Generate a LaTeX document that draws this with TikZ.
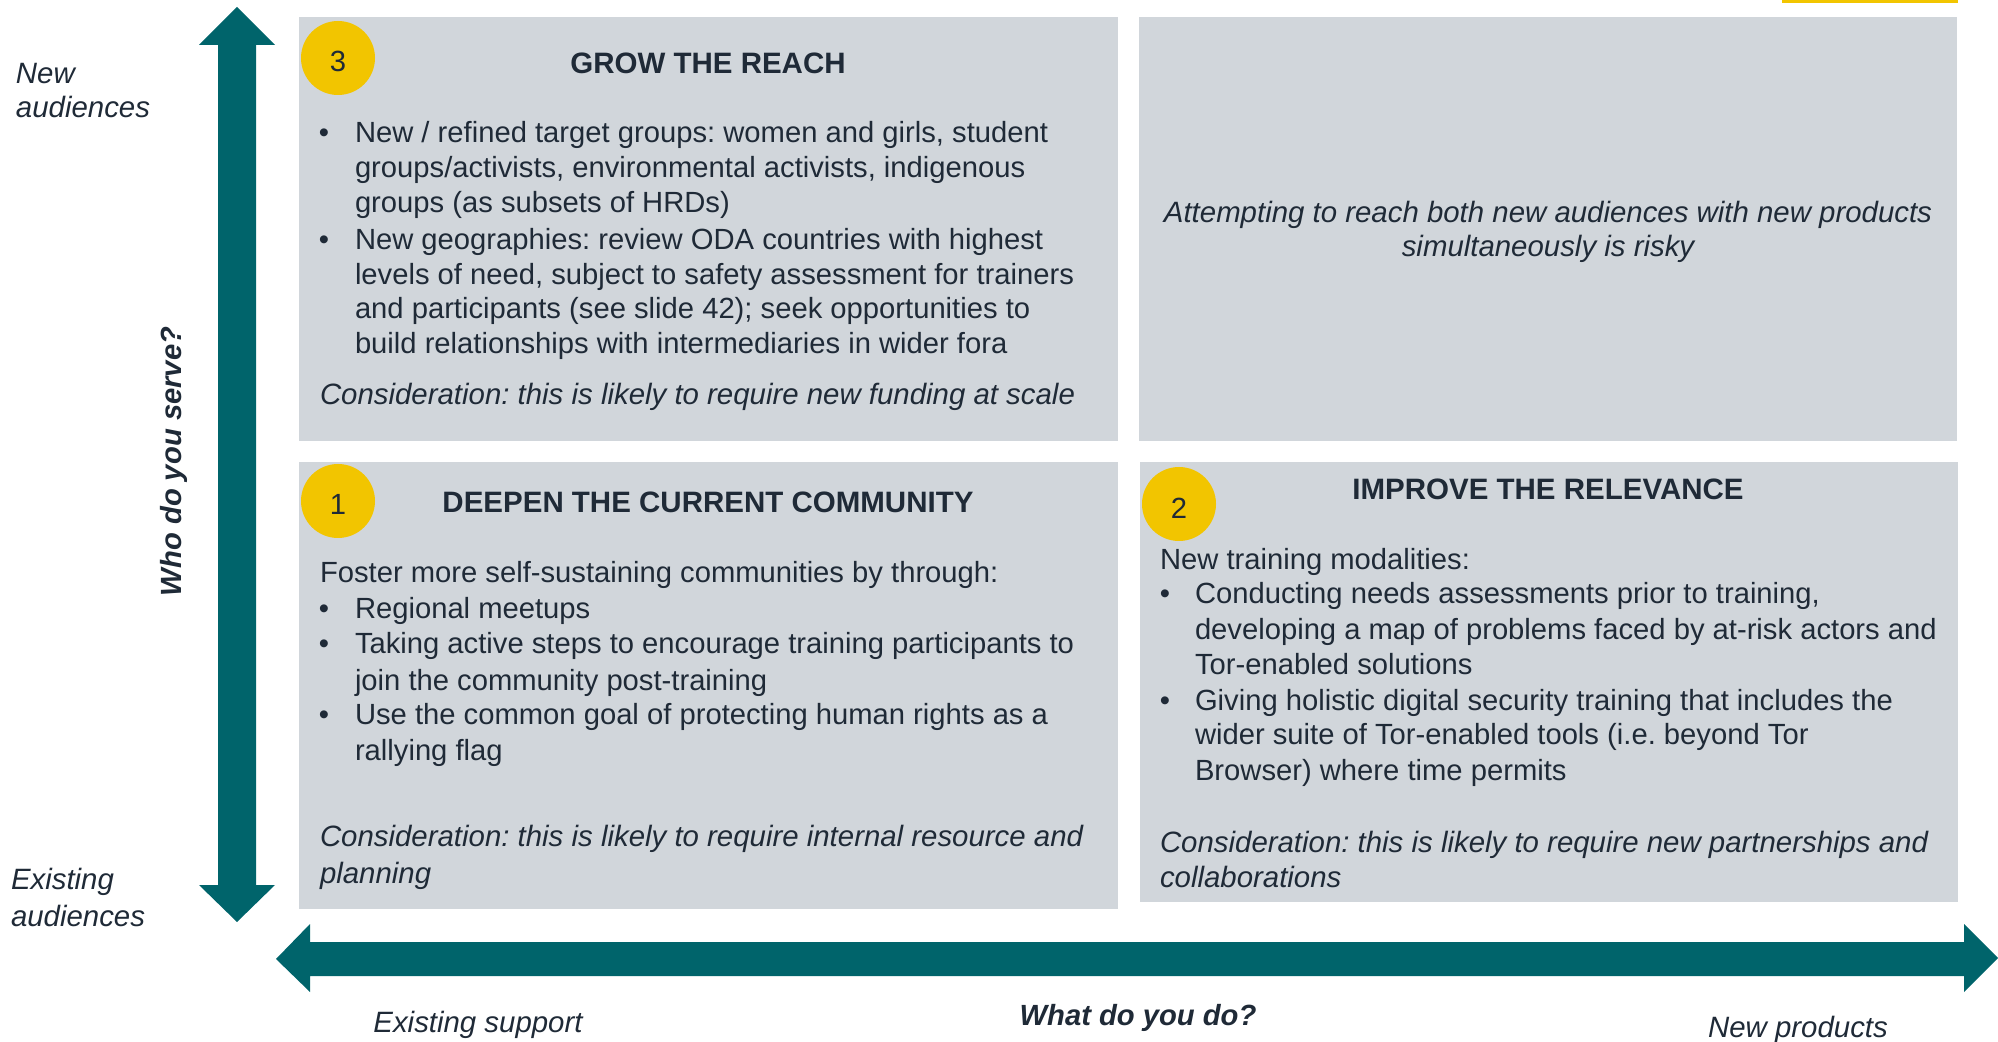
\documentclass[tikz,border=0pt]{standalone}
\usepackage{fontspec}
\setmainfont{Liberation Sans}
\definecolor{tealc}{HTML}{00646B}
\definecolor{boxc}{HTML}{D1D6DB}
\definecolor{yelc}{HTML}{F2C500}
\definecolor{textc}{HTML}{1F2A37}
\frenchspacing
\begin{document}
\begin{tikzpicture}[x=0.5pt,y=-0.5pt,
  base/.style={inner sep=0pt, outer sep=0pt, text=textc, font=\fontsize{14.6}{17.6}\selectfont},
  txt/.style={base, anchor=base west},
  itx/.style={base, anchor=base west, font=\fontsize{14.7}{17.6}\selectfont\itshape},
  ctr/.style={base, anchor=base, font=\fontsize{14.7}{17.6}\selectfont\itshape},
  bul/.style={base, anchor=base},
  ttl/.style={base, anchor=base, font=\fontsize{14.75}{17.6}\selectfont\bfseries},
  numc/.style={circle, fill=yelc, minimum size=37pt, inner sep=0pt},
  numt/.style={base, anchor=base},
  quad/.style={fill=boxc}
]
\useasboundingbox (0,0) rectangle (1998,1042);
% yellow bar
\fill[yelc] (1782,0) rectangle (1958,3);
% quadrants
\fill[quad] (299,17) rectangle (1118,441);
\fill[quad] (1139,17) rectangle (1957,441);
\fill[quad] (299,462) rectangle (1118,909);
\fill[quad] (1140,462) rectangle (1958,902);
% arrows
\fill[tealc] (237,7) -- (275,45) -- (256,45) -- (256,885) -- (275,885) -- (237,922) -- (199,885) -- (218,885) -- (218,45) -- (199,45) -- cycle;
\fill[tealc] (276,959) -- (310,924) -- (310,942) -- (1964,942) -- (1964,924) -- (1998,958) -- (1964,992) -- (1964,976) -- (310,976) -- (310,992) -- cycle;
% circles
\node[numc] (n3) at (338,58) {};
\node[numt] (n3t) at (338,71.5) {3};
\node[numc] (n1) at (338,501) {};
\node[numt] (n1t) at (338,515) {1};
\node[numc] (n2) at (1179,504) {};
\node[numt] (n2t) at (1179,519) {2};
% top-left
\node[ttl] (t3) at (708,74) {GROW THE REACH};
\node[bul] (b31) at (324,142.7) {•};
\node[txt] (l31) at (355,142.7) {New / refined target groups: women and girls, student};
\node[txt] (l32) at (355,177.7) {groups/activists, environmental activists, indigenous};
\node[txt] (l33) at (355,212.3) {groups (as subsets of HRDs)};
\node[bul] (b32) at (324,249.3) {•};
\node[txt] (l34) at (355,249.3) {New geographies: review ODA countries with highest};
\node[txt] (l35) at (355,284.3) {levels of need, subject to safety assessment for trainers};
\node[txt] (l36) at (355,319) {and participants (see slide 42); seek opportunities to};
\node[txt] (l37) at (355,354) {build relationships with intermediaries in wider fora};
\node[itx] (c3) at (320,405) {Consideration: this is likely to require new funding at scale};
% top-right
\node[ctr] (r1) at (1548,223) {Attempting to reach both new audiences with new products};
\node[ctr] (r2) at (1548,257) {simultaneously is risky};
% lower-left
\node[ttl] (t1) at (708,513) {DEEPEN THE CURRENT COMMUNITY};
\node[txt] (f0) at (320,583) {Foster more self-sustaining communities by through:};
\node[bul] (b11) at (324,619) {•};
\node[txt] (f1) at (355,619) {Regional meetups};
\node[bul] (b12) at (324,653.5) {•};
\node[txt] (f2) at (355,653.5) {Taking active steps to encourage training participants to};
\node[txt] (f3) at (355,690) {join the community post-training};
\node[bul] (b13) at (324,725) {•};
\node[txt] (f4) at (355,725) {Use the common goal of protecting human rights as a};
\node[txt] (f5) at (355,760.5) {rallying flag};
\node[itx] (c1a) at (320,846) {Consideration: this is likely to require internal resource and};
\node[itx] (c1b) at (320,883) {planning};
% lower-right
\node[ttl] (t2) at (1548,500) {IMPROVE THE RELEVANCE};
\node[txt] (m0) at (1160,569.5) {New training modalities:};
\node[bul] (b21) at (1165,604) {•};
\node[txt] (m1) at (1195,604) {Conducting needs assessments prior to training,};
\node[txt] (m2) at (1195,639.5) {developing a map of problems faced by at-risk actors and};
\node[txt] (m3) at (1195,675) {Tor-enabled solutions};
\node[bul] (b22) at (1165,711) {•};
\node[txt] (m4) at (1195,711) {Giving holistic digital security training that includes the};
\node[txt] (m5) at (1195,745) {wider suite of Tor-enabled tools (i.e. beyond Tor};
\node[txt] (m6) at (1195,780) {Browser) where time permits};
\node[itx] (c2a) at (1160,852) {Consideration: this is likely to require new partnerships and};
\node[itx] (c2b) at (1160,887) {collaborations};
% axis labels
\node[itx] (na1) at (16,84) {New};
\node[itx] (na2) at (16,118) {audiences};
\node[itx] (ea1) at (11,889) {Existing};
\node[itx] (ea2) at (11,926) {audiences};
\node[base, anchor=base, rotate=90, font=\fontsize{14.6}{17.6}\selectfont\bfseries\itshape] (who) at (181.5,461.5) {Who do you serve?};
\node[ctr] (es) at (478,1032) {Existing support};
\node[base, anchor=base, font=\fontsize{14.6}{17.6}\selectfont\bfseries\itshape] (what) at (1138,1025) {What do you do?};
\node[ctr] (np) at (1798,1037) {New products};
\end{tikzpicture}
\end{document}
